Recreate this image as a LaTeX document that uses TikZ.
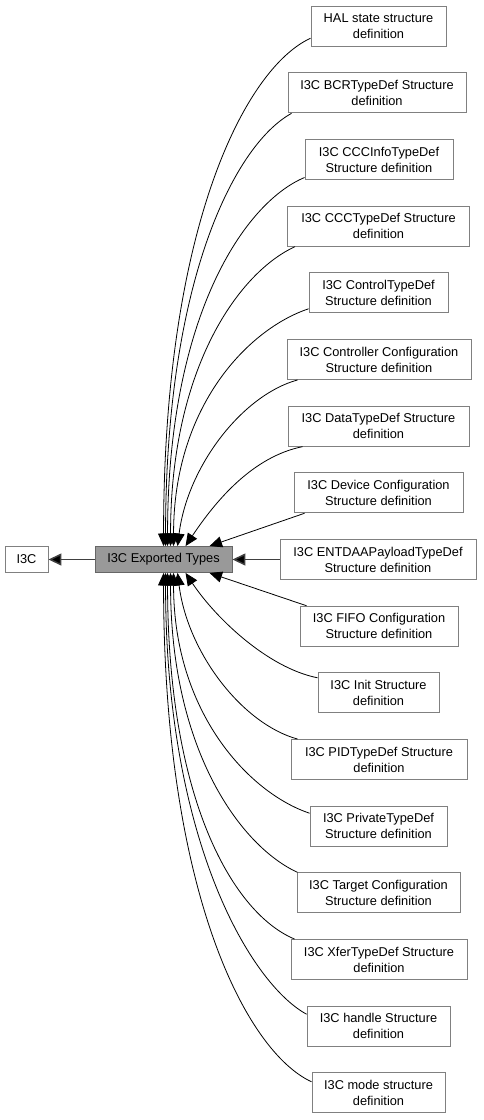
\documentclass[tikz,border=0pt]{standalone}
\usepackage{fontspec}
\setmainfont{Liberation Sans}
\usetikzlibrary{arrows.meta,calc}
\definecolor{boxgray}{HTML}{808080}
\definecolor{curgray}{HTML}{666666}
\definecolor{curfill}{HTML}{999999}
\definecolor{edgegray}{HTML}{404040}
\tikzset{
  box/.style={draw=boxgray, fill=white, line width=0.9pt, align=center,
    minimum height=40pt, inner sep=1pt, font=\fontsize{12.8}{16}\selectfont},
  smallbox/.style={draw=boxgray, fill=white, line width=0.9pt, align=center,
    minimum height=26pt, inner sep=1pt, font=\fontsize{12.8}{16}\selectfont},
  curbox/.style={smallbox, draw=curgray, fill=curfill},
  tip/.style={-{Triangle[length=12.5pt,width=11pt]}},
  cedge/.style={tip, draw=black, line width=0.8pt},
  hedge/.style={tip, draw=edgegray, line width=1.5pt, -{Triangle[length=13pt,width=12pt,fill=black]}}
}
\begin{document}
\begin{tikzpicture}[x=1pt,y=-1pt]
\useasboundingbox (0,0) rectangle (483,1120);
% central nodes
\node[smallbox, minimum width=43pt] (i3c) at (26.5,559.5) {I3C};
\node[curbox, minimum width=137pt] (exp) at (163.5,559.5) {I3C Exported Types};
% right column
\node[box, minimum width=135pt] (hal)  at (378.5,26.2)  {HAL state structure\\definition};
\node[box, minimum width=178pt] (bcr)  at (377,92.9)  {I3C BCRTypeDef Structure\\definition};
\node[box, minimum width=148pt] (cccinfo) at (379,159.5) {I3C CCCInfoTypeDef\\Structure definition};
\node[box, minimum width=182pt] (ccctype) at (378.5,226.2) {I3C CCCTypeDef Structure\\definition};
\node[box, minimum width=139pt] (ctrl) at (378.5,292.8) {I3C ControlTypeDef\\Structure definition};
\node[box, minimum width=184pt] (ctrlcfg) at (379,359.5) {I3C Controller Configuration\\Structure definition};
\node[box, minimum width=181pt] (data) at (378.5,426.2) {I3C DataTypeDef Structure\\definition};
\node[box, minimum width=169pt] (dev)  at (378.5,492.8) {I3C Device Configuration\\Structure definition};
\node[box, minimum width=196pt] (entdaa) at (378,559.5) {I3C ENTDAAPayloadTypeDef\\Structure definition};
\node[box, minimum width=158pt] (fifo) at (379,626.2) {I3C FIFO Configuration\\Structure definition};
\node[box, minimum width=121pt] (init) at (378.5,692.8) {I3C Init Structure\\definition};
\node[box, minimum width=176pt] (pid)  at (379,759.5) {I3C PIDTypeDef Structure\\definition};
\node[box, minimum width=137pt] (priv) at (378.5,826.2) {I3C PrivateTypeDef\\Structure definition};
\node[box, minimum width=163pt] (tgt)  at (378.5,892.8) {I3C Target Configuration\\Structure definition};
\node[box, minimum width=176pt] (xfer) at (379,959.5) {I3C XferTypeDef Structure\\definition};
\node[box, minimum width=143pt] (hdl)  at (378.5,1026.2) {I3C handle Structure\\definition};
\node[box, minimum width=133pt] (mode) at (378.5,1092.8) {I3C mode structure\\definition};
% horizontal edges
\draw[hedge] (exp) -- (i3c);
\draw[hedge] (entdaa) -- (exp);
% upper curves
\draw[cedge] ($(hal.west)+(0,12)$) .. controls +(-65,30) and +(0,-320) .. ($(exp.north west)+(69,0)$);
\draw[cedge] ($(bcr.south west)+(4,0)$) .. controls +(-55,30) and +(0,-270) .. ($(exp.north west)+(71,0)$);
\draw[cedge] ($(cccinfo.west)+(0,18)$) .. controls +(-60,25) and +(0,-230) .. ($(exp.north west)+(73,0)$);
\draw[cedge] ($(ccctype.south west)+(8,0)$) .. controls +(-55,25) and +(0,-180) .. ($(exp.north west)+(76,0)$);
\draw[cedge] ($(ctrl.west)+(0,16)$) .. controls +(-60,20) and +(0,-140) .. ($(exp.north west)+(79,0)$);
\draw[cedge] ($(ctrlcfg.south west)+(11,0)$) .. controls +(-55,15) and +(10,-80) .. ($(exp.north west)+(83,0)$);
\draw[cedge] ($(data.south west)+(15,0)$) .. controls +(-50,10) and +(30,-45) .. ($(exp.north west)+(91,0)$);
\draw[cedge] ($(dev.south west)+(11,0)$) -- ($(exp.north west)+(115,0)$);
% lower curves
\draw[cedge] ($(fifo.north west)+(7,0)$) -- ($(exp.south west)+(115,0)$);
\draw[cedge] ($(init.west)+(0,-15)$) .. controls +(-50,-10) and +(30,45) .. ($(exp.south west)+(91,0)$);
\draw[cedge] ($(pid.north west)+(7,0)$) .. controls +(-55,-15) and +(10,80) .. ($(exp.south west)+(83,0)$);
\draw[cedge] ($(priv.west)+(0,-13)$) .. controls +(-60,-20) and +(0,140) .. ($(exp.south west)+(79,0)$);
\draw[cedge] ($(tgt.north west)+(1,0)$) .. controls +(-55,-25) and +(0,180) .. ($(exp.south west)+(76,0)$);
\draw[cedge] ($(xfer.north west)+(4,0)$) .. controls +(-60,-25) and +(0,230) .. ($(exp.south west)+(73,0)$);
\draw[cedge] ($(hdl.west)+(0,-12)$) .. controls +(-55,-30) and +(0,270) .. ($(exp.south west)+(71,0)$);
\draw[cedge] ($(mode.west)+(0,-11)$) .. controls +(-65,-30) and +(0,320) .. ($(exp.south west)+(69,0)$);
\end{tikzpicture}
\end{document}
